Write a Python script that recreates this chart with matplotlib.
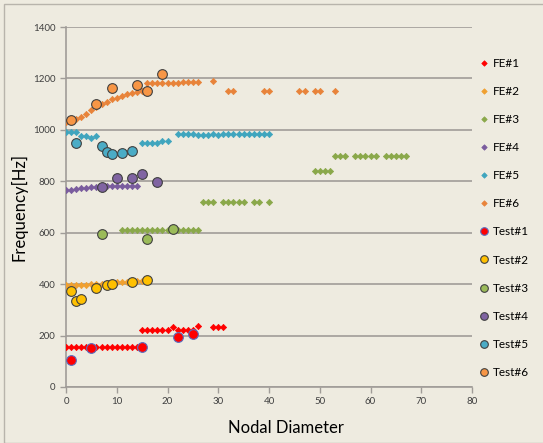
import matplotlib
matplotlib.use('Agg')
import matplotlib.pyplot as plt

plt.rcParams['font.family'] = ['Lato', 'DejaVu Sans']

# FE results (nodal diameter, frequency)
fe1_x = list(range(0, 15)) + [15, 16, 17, 18, 19, 20, 21, 22, 23, 24, 25, 26, 29, 30, 31]
fe1_y = [157] * 15 + [220, 220, 220, 220, 220, 220, 234, 220, 220, 220, 220, 236, 234, 234, 234]

fe2_x = list(range(0, 17))
fe2_y = [395, 395, 395, 396, 398, 399, 400, 402, 404, 406, 407, 409, 410, 410, 411, 411, 412]

fe3_x = list(range(11, 27)) + [27, 28, 29, 31, 32, 33, 34, 35, 37, 38, 40,
                               49, 50, 51, 52, 53, 54, 55, 57, 58, 59, 60, 61, 63, 64, 65, 66, 67]
fe3_y = [611] * 16 + [719] * 11 + [840] * 4 + [898] * 13

fe4_x = list(range(0, 15))
fe4_y = [766, 767, 770, 773, 775, 778, 779, 781, 783, 783, 783, 783, 783, 783, 783]

fe5_x = [0, 1, 2, 3, 4, 5, 6, 15, 16, 17, 18, 19, 20] + list(range(22, 41))
fe5_y = [993, 993, 993, 976, 976, 970, 976, 950, 950, 950, 950, 958, 958,
         985, 985, 985, 985, 979, 979, 979, 985, 979, 985, 985, 985, 985,
         985, 985, 985, 985, 985, 985]

fe6_x = list(range(0, 27)) + [29, 32, 33, 39, 40, 46, 47, 49, 50, 53]
fe6_y = [1029, 1040, 1042, 1049, 1062, 1076, 1088, 1101, 1110, 1119, 1125, 1133,
         1139, 1145, 1148, 1150, 1181, 1181, 1181, 1183, 1183, 1183, 1183, 1185,
         1185, 1187, 1185, 1189, 1151, 1151, 1151, 1151, 1151, 1151, 1151, 1151, 1151]

# Test results
t1_x = [1, 5, 15, 22, 25]
t1_y = [104, 153, 157, 196, 206]
t2_x = [1, 2, 3, 6, 8, 9, 13, 16]
t2_y = [372, 336, 341, 384, 395, 402, 410, 416]
t3_x = [7, 16, 21]
t3_y = [595, 577, 613]
t4_x = [7, 10, 13, 15, 18]
t4_y = [779, 814, 811, 827, 796]
t5_x = [2, 7, 8, 9, 11, 13]
t5_y = [950, 937, 913, 906, 909, 919]
t6_x = [1, 6, 9, 14, 16, 19]
t6_y = [1038, 1099, 1164, 1173, 1152, 1216]

bg = '#EEEBE0'
fig = plt.figure(figsize=(5.43, 4.43), dpi=100, facecolor=bg)
ax = fig.add_axes([66 / 543, 1 - 387 / 443, 406 / 543, 360 / 443])
ax.set_facecolor(bg)

fe_cols = ['#FF0000', '#F0A030', '#8AA84A', '#7A5C9E', '#3FA5BE', '#E8833A']
fe_data = [(fe1_x, fe1_y), (fe2_x, fe2_y), (fe3_x, fe3_y),
           (fe4_x, fe4_y), (fe5_x, fe5_y), (fe6_x, fe6_y)]
for i, (xs, ys) in enumerate(fe_data):
    ax.plot(xs, ys, 'D', ms=3.2, color=fe_cols[i], mec=fe_cols[i], mew=0.5,
            ls='none', label='FE#%d' % (i + 1), zorder=3)

t_cols = ['#FF0000', '#FFC000', '#9BBB59', '#8064A2', '#4BACC6', '#F79646']
t_edge = ['#5A6FC0', '#404040', '#404040', '#404040', '#404040', '#404040']
t_data = [(t1_x, t1_y), (t2_x, t2_y), (t3_x, t3_y),
          (t4_x, t4_y), (t5_x, t5_y), (t6_x, t6_y)]
for i, (xs, ys) in enumerate(t_data):
    ax.plot(xs, ys, 'o', ms=7, color=t_cols[i], mec=t_edge[i], mew=0.8,
            ls='none', label='Test#%d' % (i + 1), zorder=4)

ax.set_xlim(0, 80)
ax.set_ylim(0, 1400)
ax.set_xticks(range(0, 81, 10))
ax.set_yticks(range(0, 1401, 200))
ax.yaxis.grid(True, color='#A09C98', lw=1.2)
ax.set_axisbelow(True)
for s in ['top', 'right']:
    ax.spines[s].set_visible(False)
for s in ['left', 'bottom']:
    ax.spines[s].set_color('#A09C98')
    ax.spines[s].set_linewidth(1.2)
ax.tick_params(axis='both', labelsize=7, colors='#A09C98', labelcolor='#404040',
               length=4, width=1)

ax.set_xlabel('Nodal Diameter', fontsize=12)
ax.xaxis.set_label_coords(0.542, -0.092)
ax.set_ylabel('Frequency[Hz]', fontsize=12)
ax.yaxis.set_label_coords(-0.095, 0.5)

leg = ax.legend(loc='upper left', bbox_to_anchor=(476 / 543, 1 - 53 / 443),
                bbox_transform=fig.transFigure, frameon=False,
                fontsize=8.5, labelspacing=1.45, handlelength=0.6,
                handletextpad=0.4, borderaxespad=0)
# smaller markers in the legend
for h, t in zip(leg.legend_handles, leg.get_texts()):
    if t.get_text().startswith('Test'):
        h.set_markersize(5.5)
    else:
        h.set_markersize(2.8)

# outer frame
fig.patches.append(plt.Rectangle((4 / 543, 0), 1, 1 - 4 / 443, transform=fig.transFigure,
                                 fill=False, ec='#B8B4AC', lw=1.0))

fig.savefig('out.png', dpi=100, facecolor=bg)
